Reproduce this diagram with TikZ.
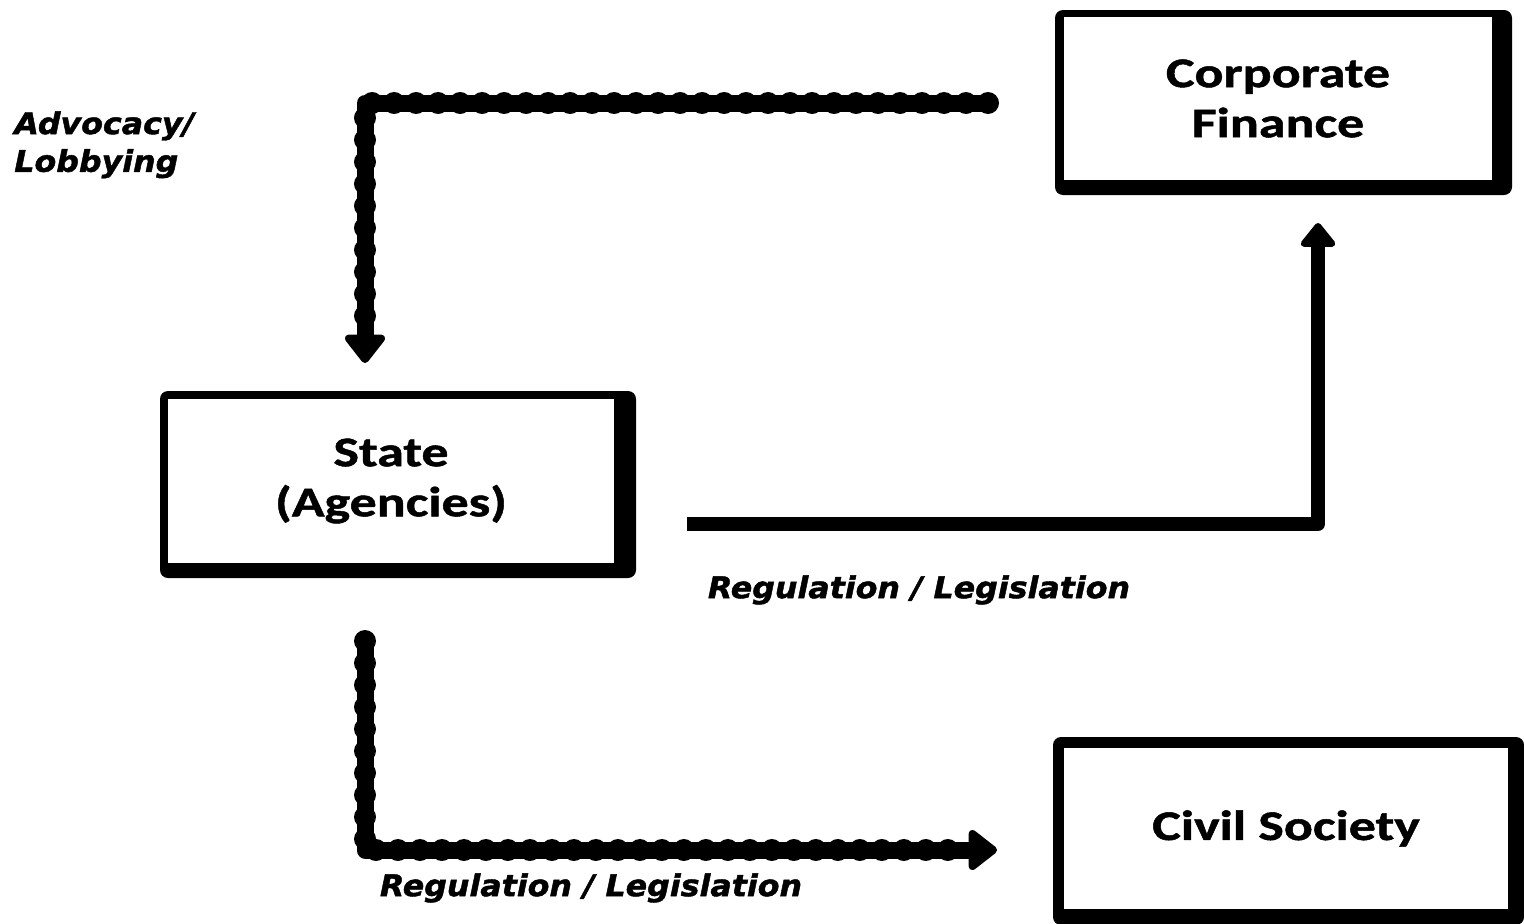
\documentclass[tikz,border=0pt]{standalone}
\usepackage{fontspec}
\newfontfamily\boxfont{Carlito}[FakeStretch=1.28, BoldFeatures={FakeBold=1.2}]
\newfontfamily\labfont{DejaVu Sans}[FakeStretch=1.06, BoldItalicFeatures={FakeBold=1.5}]
\usetikzlibrary{arrows.meta,backgrounds,calc}
\tikzset{
  box/.style={fill=white, inner sep=0pt, align=center,
    font=\boxfont\bfseries\fontsize{24}{28.5}\selectfont},
  lab/.style={inner sep=0pt, font=\labfont\bfseries\itshape\fontsize{17}{21.5}\selectfont},
  chain/.style={line width=0.34cm, line cap=round, line join=round,
    -{Triangle[round, width=0.92cm, length=0.62cm, line width=0.2cm]},
    postaction={draw, -, line width=0.44cm, line cap=round,
      dash pattern=on 0pt off 0.44cm, shorten >=0.6cm}},
  solidarrow/.style={line width=0.28cm, line join=round,
    -{Triangle[round, width=0.8cm, length=0.52cm, line width=0.16cm]}},
}
\begin{document}
\begin{tikzpicture}[x=0.02cm, y=-0.02cm]
\useasboundingbox (0,0) rectangle (1524,923);
\clip (0,0) rectangle (1524,923);
% boxes (inner white areas)
\node[box, minimum width=428*0.02cm, minimum height=163*0.02cm] (cf) at (1278,98.5) {Corporate\\Finance};
\node[box, minimum width=446*0.02cm, minimum height=164*0.02cm] (st) at (391,481) {State\\(Agencies)};
\node[box, minimum width=444*0.02cm, minimum height=161*0.02cm] (cs) at (1286,828.5) {Civil Society};
\begin{scope}[on background layer]
  \fill[rounded corners=0.16cm] (1055,10) rectangle (1512,195);
  \fill[rounded corners=0.16cm] (160,391) rectangle (636,578);
  \fill[rounded corners=0.16cm] (1053,737) rectangle (1524,925);
\end{scope}
% connector end points
\coordinate (advS) at (988,103);
\coordinate (advE) at (365,363);
\coordinate (regS) at (687,524);
\coordinate (regE) at (1318,223);
\coordinate (lowS) at (365,641);
\coordinate (lowE) at (997,850);
% connectors
\draw[chain] (advS) -| (advE);
\draw[solidarrow] (regS) -| (regE);
\draw[chain] (lowS) |- (lowE);
% labels
\node[lab, anchor=north west, align=left] (advlab) at (14,111) {Advocacy/\\Lobbying};
\node[lab] (reglab1) at (919,590) {Regulation / Legislation};
\node[lab] (reglab2) at (591,888) {Regulation / Legislation};
\end{tikzpicture}
\end{document}
